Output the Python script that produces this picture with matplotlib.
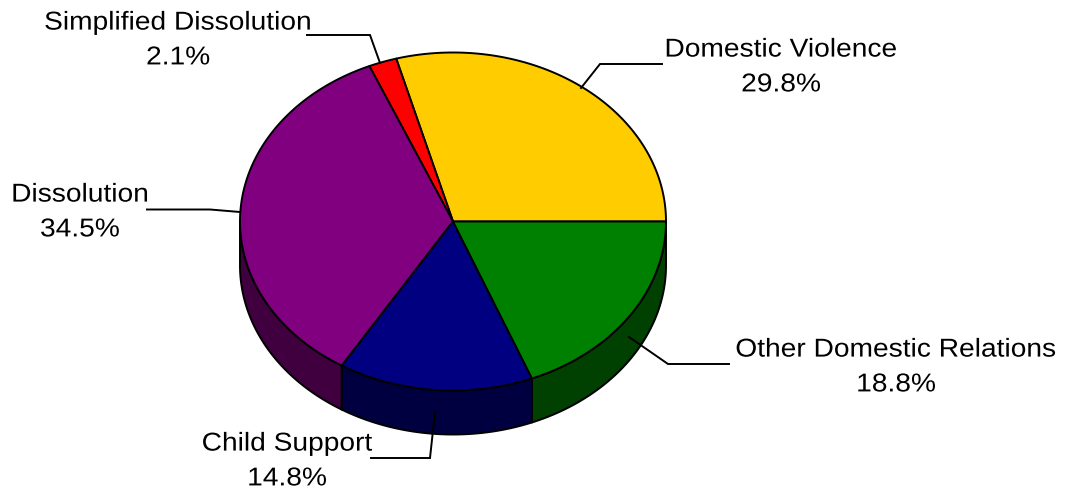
import numpy as np
import matplotlib
matplotlib.use("Agg")
import matplotlib.pyplot as plt
from matplotlib.patches import Polygon
from matplotlib.patheffects import AbstractPathEffect
from matplotlib.transforms import Affine2D

# Data (counter-clockwise from 3 o'clock)
categories = ["Domestic Violence", "Simplified Dissolution", "Dissolution",
              "Child Support", "Other Domestic Relations"]
values = [29.8, 2.1, 34.5, 14.8, 18.8]
value_labels = ["29.8%", "2.1%", "34.5%", "14.8%", "18.8%"]

# Styles
colors = ["#FFCC00", "#FF0000", "#800080", "#000080", "#008000"]
side_colors = ["#806600", "#800000", "#400040", "#000040", "#004000"]
CX, CY, RX, RY, DEPTH = 453, 221.5, 213, 169, 44
LW = 1.4
FONT = 18.6
STRETCH = 1.09

label_pos = [(781, 67), (178, 40), (80, 212), (287, 461), (896, 367)]
leaders = [
    [(662, 64), (600, 64), (581, 88)],
    [(307, 35), (370, 35), (380, 63)],
    [(147, 209.5), (210, 209.5), (240, 212)],
    [(371, 458), (430, 458), (435, 412)],
    [(729, 364), (668, 364), (629, 337)],
]


class StretchX(AbstractPathEffect):
    """Widen glyphs about a fixed display x, keeping the text a real Text."""

    def __init__(self, cx, sx):
        super().__init__()
        self.cx, self.sx = cx, sx

    def draw_path(self, renderer, gc, tpath, affine, rgbFace=None):
        st = Affine2D().translate(-self.cx, 0).scale(self.sx, 1).translate(self.cx, 0)
        renderer.draw_path(gc, tpath, affine + st, rgbFace)


fig = plt.figure(figsize=(10.65, 4.92), dpi=100)
ax = fig.add_axes([0, 0, 1, 1])
ax.set_xlim(0, 1065)
ax.set_ylim(492, 0)
ax.axis("off")


def rim(theta_deg, dy=0.0):
    t = np.radians(theta_deg)
    s = np.sin(t)
    # slight view correction of the tilted pie
    t = t - np.radians(1.9) * np.clip(s, 0, None) - np.radians(0.6) * np.clip(-s, 0, None)
    return np.column_stack([CX + RX * np.cos(t), CY - RY * np.sin(t) + dy])


edges = 360 * np.cumsum([0] + values) / np.sum(values)

# Side walls: only the part of each slice in the front half of the pie
for i in range(len(values)):
    a = max(edges[i], 180)
    b = min(edges[i + 1], 360)
    if b <= a:
        continue
    th = np.linspace(a, b, 120)
    pts = np.vstack([rim(th), rim(th[::-1], DEPTH)])
    ax.add_patch(Polygon(pts, closed=True, fc=side_colors[i], ec="black",
                         lw=LW, joinstyle="round", zorder=2))

# Top face
for i in range(len(values)):
    th = np.linspace(edges[i], edges[i + 1], 200)
    pts = np.vstack([[CX, CY], rim(th)])
    ax.add_patch(Polygon(pts, closed=True, fc=colors[i], ec="black",
                         lw=LW, joinstyle="round", zorder=3))

# Leaders
for line in leaders:
    xs, ys = zip(*line)
    ax.plot(xs, ys, color="black", lw=LW, zorder=4, solid_joinstyle="miter")

# Labels
for name, val, (x, y) in zip(categories, value_labels, label_pos):
    cx = ax.transData.transform((x, y))[0]
    ax.text(x, y, f"{name}\n{val}", ha="center", va="center", fontsize=FONT,
            family="Liberation Sans", color="black", linespacing=1.57, zorder=5,
            path_effects=[StretchX(cx, STRETCH)])

fig.savefig("out.png", dpi=100, facecolor="white")
